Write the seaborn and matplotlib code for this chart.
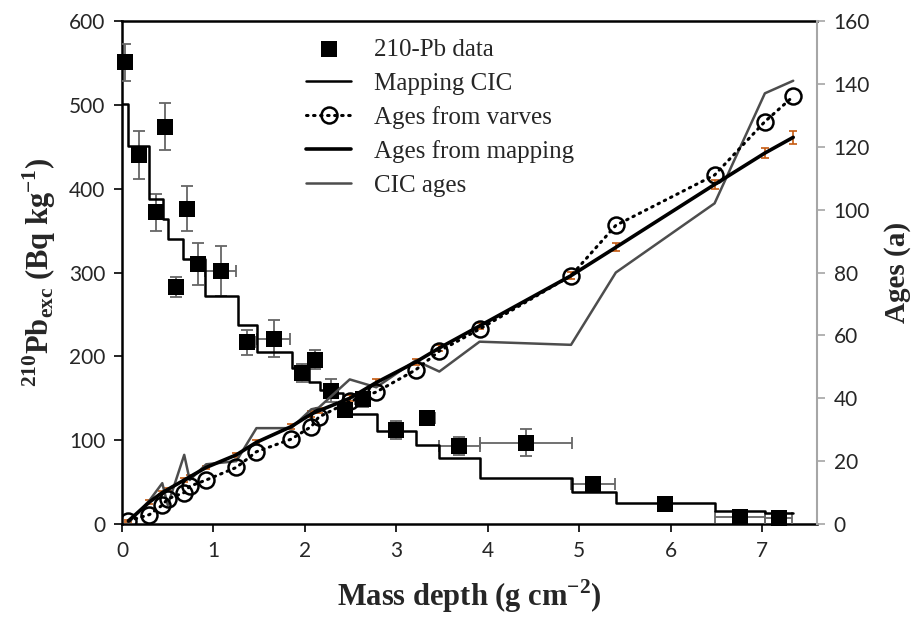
import numpy as np
import pandas as pd

import matplotlib
matplotlib.use('Agg')
import matplotlib.pyplot as plt
import seaborn as sns

# 210-Pb excess activity (left axis)
pb_depth = [0.03, 0.18, 0.37, 0.47, 0.59, 0.71, 0.83, 1.08, 1.37, 1.66, 1.97, 2.11, 2.28, 2.44, 2.63, 3.00, 3.34, 3.69, 4.42, 5.15, 5.94, 6.76, 7.18]
pb_act = [551, 440, 372, 474, 283, 376, 310, 302, 217, 221, 180, 196, 159, 136, 149, 112, 126, 93, 97, 48, 24, 8, 7]
pb_err = [22, 29, 22, 28, 12, 27, 25, 30, 15, 22, 11, 11, 14, 8, 9, 11, 5, 11, 16, 6, 3, 2, 2]
pb_xerr = [0.02, 0.07, 0.07, 0.03, 0.03, 0.03, 0.05, 0.17, 0.08, 0.18, 0.03, 0.03, 0.03, 0.08, 0.08, 0.03, 0.08, 0.22, 0.50, 0.24, 0.02, 0.27, 0.15]

# Mapping CIC model, step profile
cic_edges = [0, 0.07, 0.30, 0.45, 0.50, 0.67, 0.91, 1.27, 1.48, 1.86, 2.04, 2.17, 2.25, 2.42, 2.79, 3.22, 3.47, 3.91, 4.92, 5.40, 6.48, 7.03, 7.34]
cic_act = [501, 451, 388, 364, 340, 316, 272, 237, 205, 186, 169, 160, 156, 131, 111, 94, 79, 55, 38, 25, 16, 13, 13]

# ages (right axis)
age_depth = [0.07, 0.30, 0.44, 0.50, 0.68, 0.74, 0.92, 1.25, 1.47, 1.85, 2.07, 2.15, 2.49, 2.78, 3.21, 3.47, 3.91, 4.91, 5.40, 6.48, 7.03, 7.34]
varve_age = [1, 3, 6, 8, 10, 12, 14, 18, 23, 27, 31, 34, 39, 42, 49, 55, 62, 79, 95, 111, 128, 136]
map_age = [1, 7, 10, 11, 14, 15, 18, 22, 26, 31, 35, 36, 40, 45, 51.5, 56, 63, 79, 88, 108, 118, 123]
map_err = [0.3, 0.5, 0.5, 0.5, 0.5, 0.5, 0.6, 0.6, 0.7, 0.8, 0.8, 0.8, 0.9, 1.0, 1.0, 1.0, 1.1, 1.2, 1.3, 1.5, 1.7, 2.0]
cic_age = [0.4, 7.5, 13, 6, 22, 14, 19, 20, 30.5, 30.5, 36.5, 37, 46, 43.5, 52, 48.5, 58, 57, 80, 102, 137, 141]

sns.set_theme(style="white")
plt.rcParams['font.family'] = ['Lato', 'DejaVu Sans']
plt.rcParams['mathtext.fontset'] = 'custom'
plt.rcParams['mathtext.rm'] = 'Liberation Serif'
plt.rcParams['mathtext.bf'] = 'Liberation Serif:bold'

fig = plt.figure(figsize=(9.19, 6.2), dpi=100)
ax = fig.add_axes([0.1328, 0.1548, 0.7562, 0.8113])
ax2 = ax.twinx()

# left axis: activity
ax.errorbar(pb_depth, pb_act, yerr=pb_err, xerr=pb_xerr, fmt='none', ecolor='#666666',
            elinewidth=1.3, capsize=4, capthick=1.3, zorder=3)
sns.scatterplot(x=pb_depth, y=pb_act, ax=ax, marker='s', s=125, color='black',
                edgecolor='black', linewidth=0, zorder=5, clip_on=False)
sq_handle = ax.collections[-1]
sns.lineplot(x=cic_edges, y=cic_act, ax=ax, color='black', linewidth=1.8,
             drawstyle='steps-post', estimator=None, sort=False, zorder=4)
cic_handle = ax.lines[-1]

# right axis: ages
ax2.errorbar(age_depth, map_age, yerr=map_err, fmt='none', ecolor='#c55a11',
             elinewidth=1.2, capsize=3, capthick=1.2, zorder=2)
sns.lineplot(x=age_depth, y=cic_age, ax=ax2, color='#4d4d4d', linewidth=1.8,
             estimator=None, sort=False, zorder=3)
cicage_handle = ax2.lines[-1]
sns.lineplot(x=age_depth, y=map_age, ax=ax2, color='black', linewidth=2.6,
             estimator=None, sort=False, zorder=4)
map_handle = ax2.lines[-1]
sns.lineplot(x=age_depth, y=varve_age, ax=ax2, color='black', linewidth=2.2,
             linestyle=(0, (0.5, 1.8)), dash_capstyle='round', marker='o', markersize=11.5,
             markerfacecolor='none', markeredgecolor='black', markeredgewidth=1.8,
             estimator=None, sort=False, zorder=5)
varve_handle = ax2.lines[-1]

ax.set_xlim(0, 7.6)
ax.set_ylim(0, 600)
ax2.set_ylim(0, 160)
ax.set_xticks(range(0, 8))
ax.set_yticks(range(0, 601, 100))
ax2.set_yticks(range(0, 161, 20))

for side in ['left', 'bottom', 'top']:
    ax.spines[side].set_color('black')
    ax.spines[side].set_linewidth(1.8)
ax.spines['right'].set_visible(False)
for side in ['left', 'bottom', 'top']:
    ax2.spines[side].set_visible(False)
ax2.spines['right'].set_color('#a6a6a6')
ax2.spines['right'].set_linewidth(1.5)

ax.tick_params(axis='both', direction='out', length=6, width=1.2, color='black',
               labelsize=15, left=True, bottom=True, pad=6)
ax2.tick_params(axis='y', direction='out', length=6, width=1.2, color='#a6a6a6',
                labelsize=15, right=True, pad=6)
ax.grid(False)
ax2.grid(False)

ax.set_xlabel(r"Mass depth (g cm$^{\mathbf{-2}}$)", family='Liberation Serif',
              fontweight='bold', fontsize=22, labelpad=12)
ax.set_ylabel(r"$^{\mathbf{210}}$Pb$_{\mathbf{exc}}$ (Bq kg$^{\mathbf{-1}}$)",
              family='Liberation Serif', fontweight='bold', fontsize=22, labelpad=8)
ax2.set_ylabel("Ages (a)", family='Liberation Serif', fontweight='bold', fontsize=21, labelpad=10)

ax2.legend([sq_handle, cic_handle, varve_handle, map_handle, cicage_handle],
           ['210-Pb data', 'Mapping CIC', 'Ages from varves', 'Ages from mapping', 'CIC ages'],
           loc='upper left', bbox_to_anchor=(0.24, 1.0), frameon=False,
           prop={'family': 'Liberation Serif', 'size': 18}, handlelength=1.8,
           labelspacing=0.45, handletextpad=0.9, borderaxespad=0.3)

fig.savefig('out.png', dpi=100)
plt.close(fig)
